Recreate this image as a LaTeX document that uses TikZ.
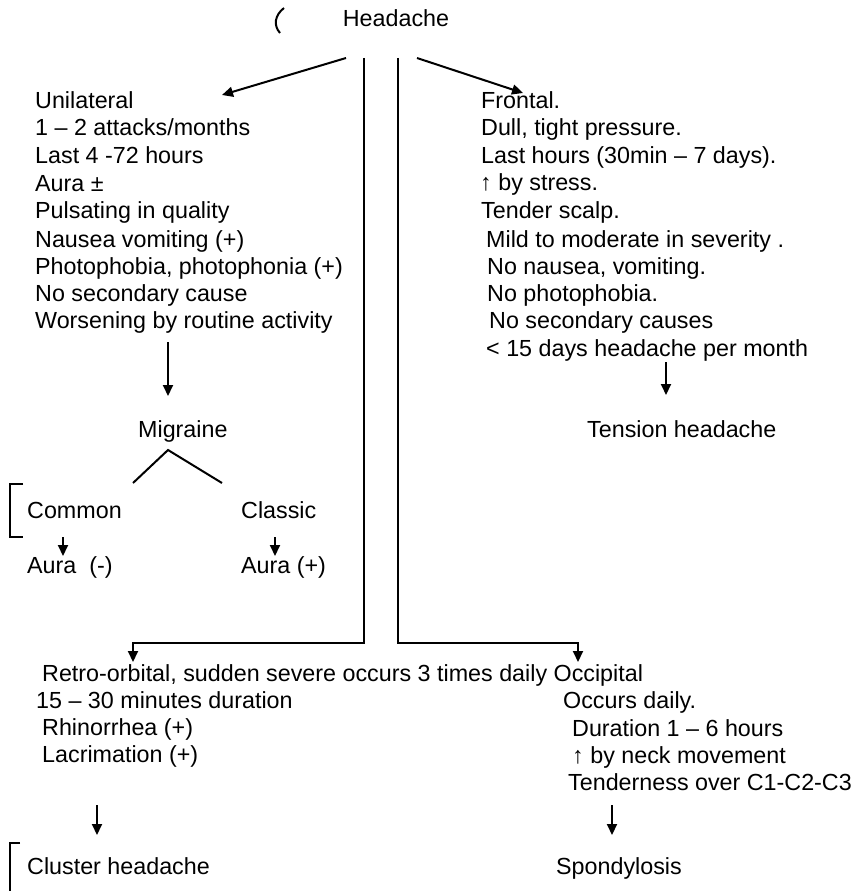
\documentclass[tikz,border=0pt]{standalone}
\usepackage{fontspec}
\setmainfont{Liberation Sans}
\usetikzlibrary{arrows.meta}
\begin{document}
\begin{tikzpicture}[x=1pt,y=-1pt,
  txt/.style={anchor=base west, inner sep=0pt, font=\fontsize{23.3}{28}\selectfont},
  link/.style={line width=2pt, line join=miter},
  arr/.style={link, -{Triangle[length=11pt,width=10pt]}}]
\useasboundingbox (0,0) rectangle (864,891);

% title and the small mark beside it
\node[txt, anchor=base] (head) at (396,27) {Headache};
\draw[line width=2pt] (284,8) .. controls (275,15) and (273,25) .. (280,33);

% migraine column
\node[txt] (l1) at (35,108) {Unilateral};
\node[txt] (l2) at (35,135) {1 – 2 attacks/months};
\node[txt] (l3) at (35,163) {Last 4 -72 hours};
\node[txt] (l4) at (35,191) {Aura ±};
\node[txt] (l5) at (35,218) {Pulsating in quality};
\node[txt] (l6) at (35,247) {Nausea vomiting (+)};
\node[txt] (l7) at (35,274) {Photophobia, photophonia (+)};
\node[txt] (l8) at (35,301) {No secondary cause};
\node[txt] (l9) at (35,328) {Worsening by routine activity};
\node[txt] (mig) at (138,437) {Migraine};
\node[txt] (com) at (27,518) {Common};
\node[txt] (cla) at (241,518) {Classic};
\node[txt] (aum) at (27,573) {Aura\ \ (-)};
\node[txt] (aup) at (241,573) {Aura (+)};

% tension column
\node[txt] (r1) at (481,108) {Frontal.};
\node[txt] (r2) at (481,135) {Dull, tight pressure.};
\node[txt] (r3) at (481,163) {Last hours (30min – 7 days).};
\node[txt] (r4) at (480,190) {↑ by stress.};
\node[txt] (r5) at (481,218) {Tender scalp.};
\node[txt] (r6) at (486,247) {Mild to moderate in severity .};
\node[txt] (r7) at (487,274) {No nausea, vomiting.};
\node[txt] (r8) at (487,301) {No photophobia.};
\node[txt] (r9) at (489,328) {No secondary causes};
\node[txt] (r10) at (486,356) {< 15 days headache per month};
\node[txt] (ten) at (587,437) {Tension headache};

% cluster and occipital rows
\node[txt] (c1) at (42,681) {Retro-orbital, sudden severe occurs 3 times daily Occipital};
\node[txt] (c2) at (36,708) {15 – 30 minutes duration};
\node[txt] (c3) at (42,735) {Rhinorrhea (+)};
\node[txt] (c4) at (42,762) {Lacrimation (+)};
\node[txt] (o2) at (563,708) {Occurs daily.};
\node[txt] (o3) at (572,736) {Duration 1 – 6 hours};
\node[txt] (o4) at (572,763) {↑ by neck movement};
\node[txt] (o5) at (568,790) {Tenderness over C1-C2-C3};
\node[txt] (clu) at (27,874) {Cluster headache};
\node[txt] (spo) at (556,874) {Spondylosis};

% connector end points
\coordinate (hl) at (346,58);   \coordinate (hlt) at (222,95);
\coordinate (hr) at (417,58);   \coordinate (hrt) at (523,93);
\coordinate (vl) at (364,58);   \coordinate (vlb) at (364,643);
\coordinate (vlc) at (133,643); \coordinate (vlt) at (133,662);
\coordinate (vr) at (398,58);   \coordinate (vrb) at (398,643);
\coordinate (vrc) at (578,643); \coordinate (vrt) at (578,662);
\coordinate (m1) at (168,342);  \coordinate (m2) at (168,396);
\coordinate (t1) at (666,362);  \coordinate (t2) at (666,395);
\coordinate (ap) at (168,450);
\coordinate (bl) at (133,483);  \coordinate (br) at (222,483);
\coordinate (ca1) at (63,537);  \coordinate (ca2) at (63,556);
\coordinate (cb1) at (275,537); \coordinate (cb2) at (275,556);
\coordinate (k1) at (97,805);   \coordinate (k2) at (97,835);
\coordinate (s1) at (612,805);  \coordinate (s2) at (612,835);

% connectors
\draw[arr] (hl) -- (hlt);
\draw[arr] (hr) -- (hrt);
\draw[arr] (vl) -- (vlb) -- (vlc) -- (vlt);
\draw[arr] (vr) -- (vrb) -- (vrc) -- (vrt);
\draw[arr] (m1) -- (m2);
\draw[arr] (t1) -- (t2);
\draw[link] (bl) -- (ap) -- (br);
\draw[arr] (ca1) -- (ca2);
\draw[arr] (cb1) -- (cb2);
\draw[arr] (k1) -- (k2);
\draw[arr] (s1) -- (s2);

% brackets
\draw[link] (23,484) -- (10,484) -- (10,537) -- (23,537);
\draw[link] (20,843) -- (10,843) -- (10,891);
\end{tikzpicture}
\end{document}
